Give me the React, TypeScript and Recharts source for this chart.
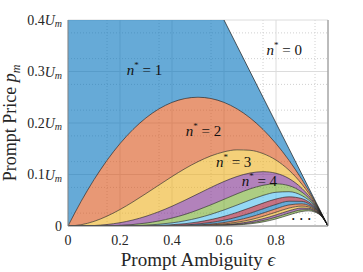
import React from 'react';
import { ComposedChart, Area, Line, XAxis, YAxis, CartesianGrid, ReferenceDot } from 'recharts';

// Prompt ambiguity values (x)
const EPS = [0, 0.05, 0.1, 0.15, 0.2, 0.25, 0.3, 0.35, 0.4, 0.45, 0.5, 0.55, 0.6, 0.65, 0.7, 0.75, 0.8, 0.85, 0.9, 0.925, 0.95, 0.975, 1];

// Region boundaries (price, in units of U_m)
const B1 = [0.4, 0.4, 0.4, 0.4, 0.4, 0.4, 0.4, 0.4, 0.4, 0.4, 0.4, 0.4, 0.4, 0.35, 0.3, 0.25, 0.2, 0.15, 0.1, 0.075, 0.05, 0.025, 0];
const B2 = [0, 0.0475, 0.09, 0.1275, 0.16, 0.1875, 0.21, 0.2275, 0.24, 0.2475, 0.25, 0.2475, 0.24, 0.2275, 0.21, 0.1875, 0.16, 0.1275, 0.09, 0.0694, 0.0475, 0.0244, 0];
const B3 = [0, 0.0024, 0.009, 0.0191, 0.032, 0.0469, 0.063, 0.0796, 0.096, 0.1114, 0.125, 0.1361, 0.144, 0.1479, 0.147, 0.1406, 0.128, 0.1084, 0.081, 0.0642, 0.0451, 0.0238, 0];
const B4 = [0, 0.0001, 0.0009, 0.0029, 0.0064, 0.0117, 0.0189, 0.0279, 0.0384, 0.0501, 0.0625, 0.0749, 0.0864, 0.0961, 0.1029, 0.1055, 0.1024, 0.0921, 0.0729, 0.0594, 0.0429, 0.0232, 0];
const B5 = [0, 0, 0.0001, 0.0004, 0.0013, 0.0029, 0.0057, 0.0098, 0.0154, 0.0225, 0.0313, 0.0412, 0.0518, 0.0625, 0.072, 0.0791, 0.0819, 0.0783, 0.0656, 0.0549, 0.0407, 0.0226, 0];
const B6 = [0, 0, 0, 0.0001, 0.0003, 0.0007, 0.0017, 0.0034, 0.0061, 0.0101, 0.0156, 0.0227, 0.0311, 0.0406, 0.0504, 0.0593, 0.0655, 0.0666, 0.059, 0.0508, 0.0387, 0.0221, 0];
const B7 = [0, 0, 0, 0, 0.0001, 0.0002, 0.0005, 0.0012, 0.0025, 0.0045, 0.0078, 0.0125, 0.0187, 0.0264, 0.0353, 0.0445, 0.0524, 0.0566, 0.0531, 0.047, 0.0368, 0.0215, 0];
const B8 = [0, 0, 0, 0, 0, 0, 0.0002, 0.0004, 0.001, 0.002, 0.0039, 0.0069, 0.0112, 0.0172, 0.0247, 0.0334, 0.0419, 0.0481, 0.0478, 0.0435, 0.0349, 0.021, 0];
const B9 = [0, 0, 0, 0, 0, 0, 0, 0.0001, 0.0004, 0.0009, 0.002, 0.0038, 0.0067, 0.0112, 0.0173, 0.025, 0.0335, 0.0409, 0.043, 0.0402, 0.0332, 0.0205, 0];
const B10 = [0, 0, 0, 0, 0, 0, 0, 0, 0.0002, 0.0004, 0.001, 0.0021, 0.004, 0.0073, 0.0121, 0.0188, 0.0268, 0.0348, 0.0387, 0.0372, 0.0315, 0.02, 0];
const B11 = [0, 0, 0, 0, 0, 0, 0, 0, 0, 0.0002, 0.0005, 0.0012, 0.0024, 0.0047, 0.0085, 0.0141, 0.0215, 0.0296, 0.0349, 0.0344, 0.0299, 0.0195, 0];
const B12 = [0, 0, 0, 0, 0, 0, 0, 0, 0, 0, 0.0002, 0.0006, 0.0015, 0.0031, 0.0059, 0.0106, 0.0172, 0.0251, 0.0314, 0.0318, 0.0284, 0.019, 0];
const B13 = [0, 0, 0, 0, 0, 0, 0, 0, 0, 0, 0, 0.0003, 0.0009, 0.002, 0.0042, 0.0079, 0.0137, 0.0214, 0.0282, 0.0294, 0.027, 0.0186, 0];

const BOUNDS = [B1, B2, B3, B4, B5, B6, B7, B8, B9, B10, B11, B12, B13];

const BAND_COLORS = ['#0072BD', '#D95319', '#EDB120', '#7E2F8E', '#77AC30', '#4DBEEE', '#A2142F'];

const X_TICKS = [0, 0.2, 0.4, 0.6, 0.8];
const Y_TICKS = [0, 0.1, 0.2, 0.3, 0.4];
const X_MINOR = [0.05, 0.1, 0.15, 0.25, 0.3, 0.35, 0.45, 0.5, 0.55, 0.65, 0.7, 0.75, 0.85, 0.9, 0.95];
const Y_MINOR = [0.025, 0.05, 0.075, 0.125, 0.15, 0.175, 0.225, 0.25, 0.275, 0.325, 0.35, 0.375];

const LABELS = [
  { n: '0', x: 0.832, y: 0.341 },
  { n: '1', x: 0.294, y: 0.302 },
  { n: '2', x: 0.521, y: 0.1835 },
  { n: '3', x: 0.637, y: 0.125 },
  { n: '4', x: 0.736, y: 0.088 },
];

const FONT = '"Liberation Serif", "DejaVu Serif", serif';
const SERIF = { fontFamily: FONT };

const data = EPS.map((e, i) => {
  const row: any = { eps: e };
  BOUNDS.forEach((b, k) => {
    row[`b${k + 1}`] = b[i];
  });
  row.edge0 = e >= 0.6 ? B1[i] : null;
  return row;
});

const YTick = (props: any) => {
  const { x, y, payload } = props;
  const v = payload.value;
  if (v === 0) {
    return (
      <text x={x} y={y} textAnchor="end" dominantBaseline="central" style={SERIF} fontSize={14} fill="#262626">0</text>
    );
  }
  return (
    <text x={x} y={y} textAnchor="end" dominantBaseline="central" style={SERIF} fontSize={14} fill="#262626">
      {v.toFixed(1)}
      <tspan fontStyle="italic">U</tspan>
      <tspan fontStyle="italic" fontSize={10} dy={3}>m</tspan>
    </text>
  );
};

const XTick = (props: any) => {
  const { x, y, payload } = props;
  return (
    <text x={x} y={y} dy="0.71em" textAnchor="middle" style={SERIF} fontSize={14} fill="#262626">
      {payload.value === 0 ? '0' : payload.value.toFixed(1)}
    </text>
  );
};

const XTitle = (props: any) => {
  const vb = props.viewBox || { x: 68, y: 226, width: 260, height: 46 };
  return (
    <text x={vb.x + vb.width / 2} y={266} textAnchor="middle" style={SERIF} fontSize={19} fill="#262626">
      Prompt Ambiguity <tspan fontStyle="italic">ϵ</tspan>
    </text>
  );
};

const YTitle = () => {
  const cx = 16;
  const cy = 123;
  return (
    <text x={cx} y={cy} textAnchor="middle" transform={`rotate(-90, ${cx}, ${cy})`} style={SERIF} fontSize={18} fill="#262626">
      Prompt Price <tspan fontStyle="italic">p</tspan>
      <tspan fontStyle="italic" fontSize={12} dy={4}>m</tspan>
    </text>
  );
};

const makeLabelShape = (n: string) => (props: any) => {
  const { cx, cy } = props;
  return (
    <text x={cx} y={cy} textAnchor="middle" dominantBaseline="central" style={SERIF} fontSize={15} fill="#111">
      <tspan fontStyle="italic">n</tspan>
      <tspan fontSize={9} dy={-5}>*</tspan>
      <tspan dy={5}>{' = '}{n}</tspan>
    </text>
  );
};

const DotsShape = (props: any) => {
  const { cx, cy } = props;
  return (
    <text x={cx} y={cy} textAnchor="middle" style={SERIF} fontSize={16} fill="#111" letterSpacing={4}>
      ...
    </text>
  );
};

export default function App() {
  const bands = [];
  for (let n = 1; n <= 12; n++) {
    const top = `b${n}`;
    const bot = `b${n + 1}`;
    bands.push(
      <Area
        key={`band${n}`}
        dataKey={(d: any) => [d[bot], d[top]]}
        type={n === 1 ? 'linear' : 'monotone'}
        fill={BAND_COLORS[(n - 1) % 7]}
        fillOpacity={0.6}
        stroke="none"
        isAnimationActive={false}
        dot={false}
        activeDot={false}
      />
    );
  }
  const lines = [];
  for (let n = 2; n <= 13; n++) {
    lines.push(
      <Line
        key={`line${n}`}
        dataKey={`b${n}`}
        type="monotone"
        stroke="#1a1a1a"
        strokeWidth={0.6}
        dot={false}
        activeDot={false}
        isAnimationActive={false}
      />
    );
  }
  return (
    <div style={{ position: 'absolute', left: 0, top: 0, background: '#fff' }}>
      <ComposedChart width={363} height={272} data={data} margin={{ top: 20, right: 0, bottom: 0, left: 0 }}>
        <CartesianGrid horizontalValues={Y_MINOR} verticalValues={X_MINOR} stroke="#d0d0d0" strokeDasharray="1 2" />
        <CartesianGrid stroke="#dcdcdc" />
        <XAxis
          dataKey="eps"
          type="number"
          domain={[0, 1]}
          ticks={X_TICKS}
          tick={<XTick />}
          tickLine={false}
          tickSize={0}
          tickMargin={9}
          height={46}
          axisLine={{ stroke: '#8a8a8a' }}
          label={<XTitle />}
          allowDataOverflow
        />
        <YAxis
          type="number"
          domain={[0, 0.4]}
          ticks={Y_TICKS}
          tick={<YTick />}
          tickLine={false}
          tickSize={0}
          tickMargin={6}
          width={68}
          axisLine={{ stroke: '#8a8a8a' }}
          allowDataOverflow
        />
        <YAxis
          yAxisId="r"
          orientation="right"
          type="number"
          domain={[0, 0.4]}
          ticks={Y_TICKS}
          tick={false}
          tickLine={false}
          width={35}
          axisLine={{ stroke: '#8a8a8a' }}
        />
        {bands}
        {lines}
        <Line dataKey="edge0" type="linear" stroke="#1a1a1a" strokeWidth={0.7} dot={false} activeDot={false} isAnimationActive={false} connectNulls={false} />
        {LABELS.map((l) => (
          <ReferenceDot key={l.n} x={l.x} y={l.y} r={1} shape={makeLabelShape(l.n)} />
        ))}
        <ReferenceDot x={0.905} y={0.0126} r={1} shape={DotsShape} />
      </ComposedChart>
      <svg width={363} height={272} style={{ position: 'absolute', left: 0, top: 0, pointerEvents: 'none' }}>
        <YTitle />
      </svg>
    </div>
  );
}
